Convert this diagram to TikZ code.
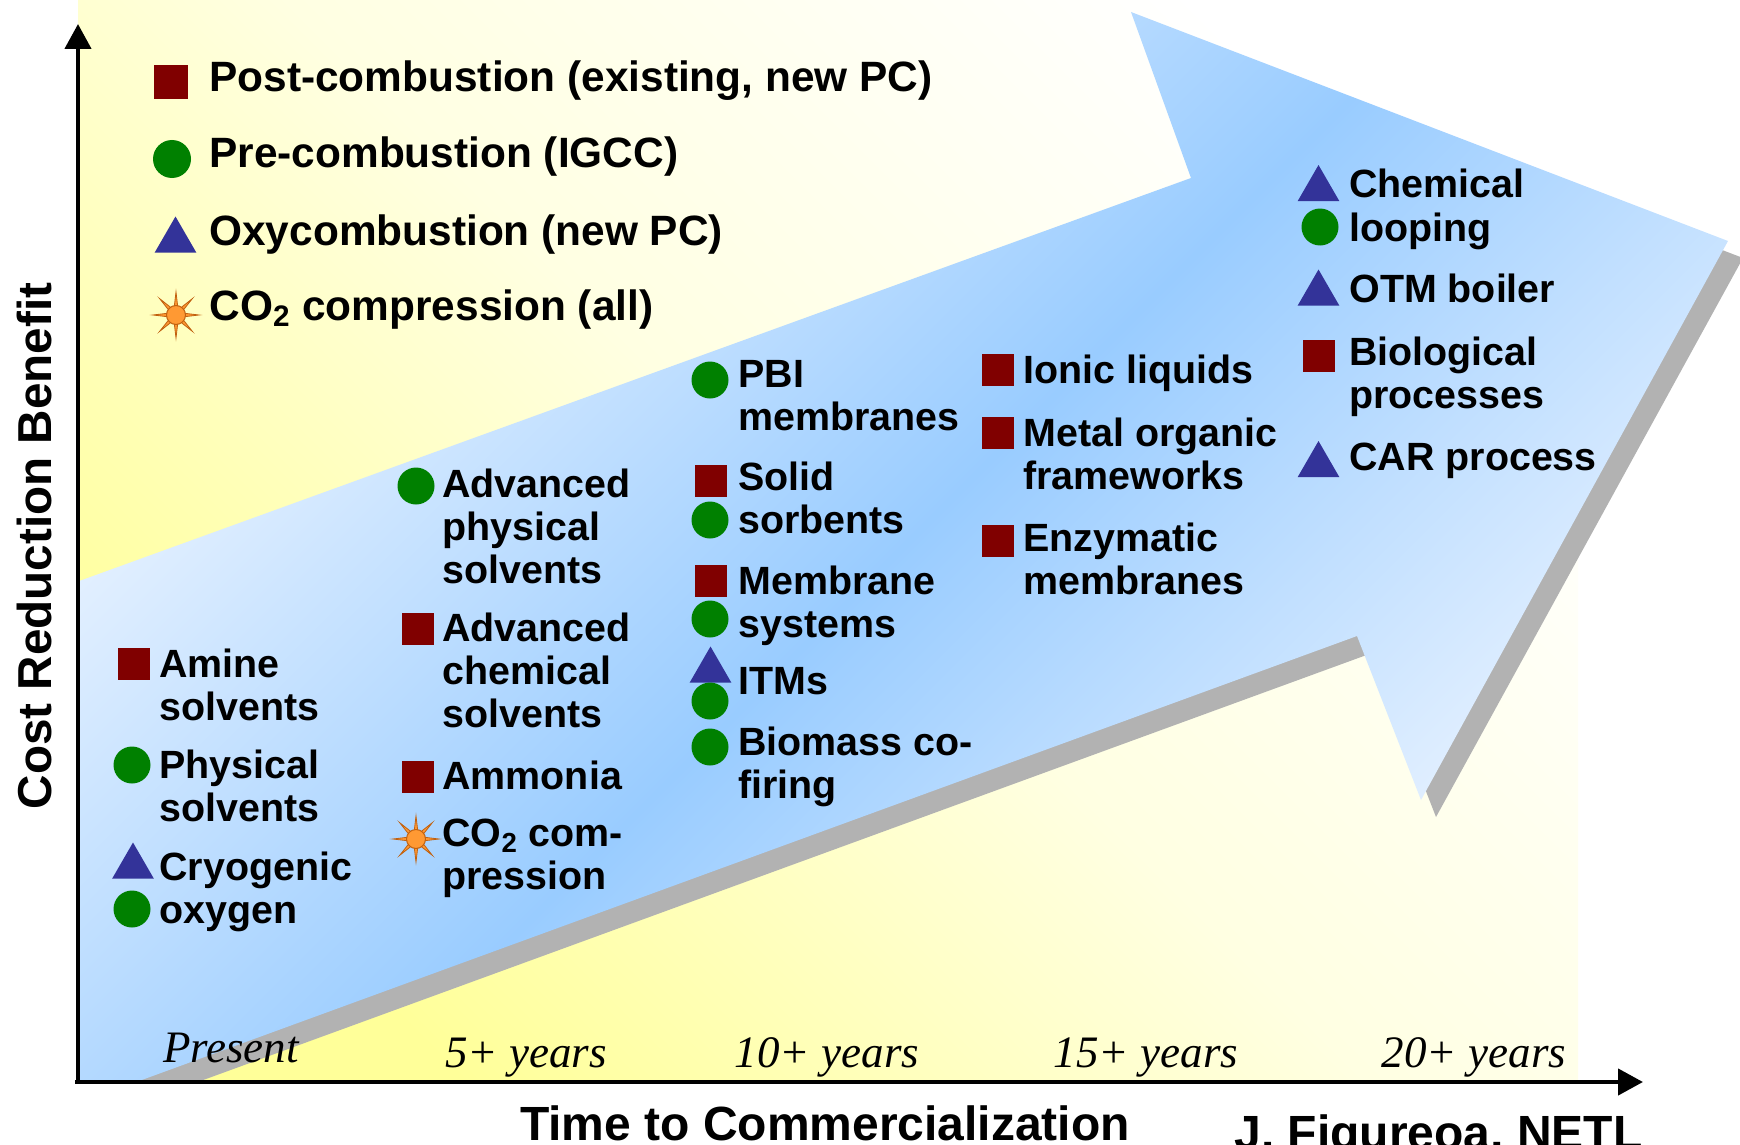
\documentclass[tikz,border=0pt]{standalone}
\usepackage{fontspec}
\setmainfont{Liberation Sans}
\newfontfamily\timesfont{Liberation Serif}
\usetikzlibrary{shapes.geometric,arrows.meta}

\definecolor{postred}{HTML}{800000}
\definecolor{pregreen}{HTML}{008000}
\definecolor{oxyblue}{HTML}{333399}
\definecolor{sunfill}{HTML}{FF9933}
\definecolor{sunline}{HTML}{C0600F}
\definecolor{bgyellow}{HTML}{FFFF99}
\definecolor{bgcream}{HTML}{FFFFE2}
\definecolor{arrowblue}{HTML}{99CCFF}
\definecolor{arrowpale}{HTML}{F2F7FF}
\definecolor{shadowgray}{HTML}{B2B2B2}

\newcommand{\legfont}{\fontsize{21.2}{24}\selectfont\bfseries}
\newcommand{\techfont}{\fontsize{19.7}{21.5}\selectfont\bfseries}
\newcommand{\yearfont}{\timesfont\fontsize{22.5}{26}\selectfont\itshape}
\newcommand{\axisfont}{\fontsize{24}{28}\selectfont\bfseries}

\tikzset{
  sunmark/.pic={
    \foreach \a in {0,45,...,315}
      \filldraw[fill=sunfill,draw=sunline,line width=.4pt] (\a-13:8) -- (\a:23) -- (\a+13:8) -- cycle;
    \filldraw[fill=sunfill,draw=sunline,line width=.5pt] (0,0) circle (9.5);
  }
}

\begin{document}
\begin{tikzpicture}[x=.5pt,y=-.5pt,
    postsq/.style={fill=postred,inner sep=0pt,minimum size=16pt},
    precirc/.style={circle,fill=pregreen,inner sep=0pt,minimum size=18.5pt},
    oxytri/.style={regular polygon,regular polygon sides=3,fill=oxyblue,inner sep=0pt,minimum size=24pt},
    legtext/.style={anchor=base west,inner sep=0pt,font=\legfont},
    techtext/.style={anchor=base west,inner sep=0pt,font=\techfont},
    yeartext/.style={anchor=base,inner sep=0pt,font=\yearfont},
    axisline/.style={line width=2.2pt,-{Triangle[length=12.5pt,width=13pt]}}
  ]
  \useasboundingbox (0,0) rectangle (1740,1145);
  \clip (0,0) rectangle (1740,1145);

  % background
  \shade[bottom color=bgyellow,top color=white,middle color=bgcream,shading angle=-45] (78,0) rectangle (1578,1080);

  % big arrow and its shadow
  \begin{scope}
    \clip (79,0) rectangle (1740,1080);
    \begin{scope}[xshift=7.5pt,yshift=-8.5pt]
      \fill[shadowgray] (60,588) -- (1191,178) -- (1131,12) -- (1728,241) -- (1421,800) -- (1357,636) -- (87,1100) -- (60,1100) -- cycle;
    \end{scope}
    \shade[top color=arrowpale,bottom color=arrowpale,middle color=arrowblue,shading angle=45]
      (60,588) -- (1191,178) -- (1131,12) -- (1728,241) -- (1421,800) -- (1357,636) -- (87,1100) -- (60,1100) -- cycle;
  \end{scope}

  % axes
  \draw[axisline] (78,1082) -- (78,24);
  \draw[axisline] (75,1082) -- (1643,1082);

  \node[rotate=90,anchor=base,inner sep=0pt,font=\fontsize{23.8}{28}\selectfont\bfseries] (ylabel) at (51,546) {Cost Reduction Benefit};
  \node[anchor=base,inner sep=0pt,font=\axisfont] (xlabel) at (825,1140) {Time to Commercialization};
  \node[anchor=base west,inner sep=0pt,font=\axisfont] (credit) at (1234,1149) {J. Figureoa, NETL};

  % legend
  \node[postsq,minimum size=17pt] (legpost) at (171,82) {};
  \node[legtext] (legposttxt) at (209,92) {Post-combustion (existing, new PC)};
  \node[precirc,minimum size=19pt] (legpre) at (172,159) {};
  \node[legtext] (legpretxt) at (209,168) {Pre-combustion (IGCC)};
  \node[oxytri] (legoxy) at (175.5,240.5) {};
  \node[legtext] (legoxytxt) at (209,245) {Oxycombustion (new PC)};
  \pic (legsun) at (176,315) {sunmark};
  \node[legtext] (legsuntxt) at (209,320) {CO\textsubscript{2} compression (all)};

  % present
  \node[postsq] (amine) at (133.5,664) {};
  \node[techtext] (aminetxt) at (159,677) {\begin{tabular}[t]{@{}l@{}}Amine\\solvents\end{tabular}};
  \node[precirc] (physical) at (132,765) {};
  \node[techtext] (physicaltxt) at (159,778) {\begin{tabular}[t]{@{}l@{}}Physical\\solvents\end{tabular}};
  \node[oxytri] (cryo) at (133,866.5) {};
  \node[precirc] (oxygen) at (132,909) {};
  \node[techtext] (cryotxt) at (159,880) {\begin{tabular}[t]{@{}l@{}}Cryogenic\\oxygen\end{tabular}};

  % 5+ years
  \node[precirc] (advphys) at (416,486) {};
  \node[techtext] (advphystxt) at (442,497) {\begin{tabular}[t]{@{}l@{}}Advanced\\physical\\solvents\end{tabular}};
  \node[postsq] (advchem) at (417.5,629) {};
  \node[techtext] (advchemtxt) at (442,641) {\begin{tabular}[t]{@{}l@{}}Advanced\\chemical\\solvents\end{tabular}};
  \node[postsq] (ammonia) at (417.5,777) {};
  \node[techtext] (ammoniatxt) at (442,789) {Ammonia};
  \pic (compsun) at (416,839) {sunmark};
  \node[techtext] (comptxt) at (442,846) {\begin{tabular}[t]{@{}l@{}}CO\textsubscript{2} com-\\pression\end{tabular}};

  % 10+ years
  \node[precirc] (pbi) at (710,380) {};
  \node[techtext] (pbitxt) at (738,387) {\begin{tabular}[t]{@{}l@{}}PBI\\membranes\end{tabular}};
  \node[postsq] (solid) at (711,480.5) {};
  \node[precirc] (sorbents) at (710,520) {};
  \node[techtext] (solidtxt) at (738,490) {\begin{tabular}[t]{@{}l@{}}Solid\\sorbents\end{tabular}};
  \node[postsq] (membrane) at (711,581) {};
  \node[precirc] (systems) at (710,619) {};
  \node[techtext] (membranetxt) at (738,594) {\begin{tabular}[t]{@{}l@{}}Membrane\\systems\end{tabular}};
  \node[oxytri] (itm) at (710.5,670.5) {};
  \node[precirc] (itmpre) at (710,701) {};
  \node[techtext] (itmtxt) at (738,694) {ITMs};
  \node[precirc] (biomass) at (710,747) {};
  \node[techtext] (biomasstxt) at (738,755) {\begin{tabular}[t]{@{}l@{}}Biomass co-\\firing\end{tabular}};

  % 15+ years
  \node[postsq] (ionic) at (997.5,370) {};
  \node[techtext] (ionictxt) at (1023,383) {Ionic liquids};
  \node[postsq] (metal) at (997.5,432.5) {};
  \node[techtext] (metaltxt) at (1023,446) {\begin{tabular}[t]{@{}l@{}}Metal organic\\frameworks\end{tabular}};
  \node[postsq] (enzyme) at (997.5,540.5) {};
  \node[techtext] (enzymetxt) at (1023,551) {\begin{tabular}[t]{@{}l@{}}Enzymatic\\membranes\end{tabular}};

  % 20+ years
  \node[oxytri] (chemloop) at (1318.5,189) {};
  \node[precirc] (looping) at (1320,227) {};
  \node[techtext] (chemlooptxt) at (1349,198) {\begin{tabular}[t]{@{}l@{}}Chemical\\looping\end{tabular}};
  \node[oxytri] (otm) at (1318.5,293.5) {};
  \node[techtext] (otmtxt) at (1349,302) {OTM boiler};
  \node[postsq] (bio) at (1318.5,355.5) {};
  \node[techtext] (biotxt) at (1349,365) {\begin{tabular}[t]{@{}l@{}}Biological\\processes\end{tabular}};
  \node[oxytri] (car) at (1318.5,465) {};
  \node[techtext] (cartxt) at (1349,470) {CAR process};

  % time labels
  \node[yeartext] (present) at (231,1062) {Present};
  \node[yeartext] (five) at (526,1067) {5+ years};
  \node[yeartext] (ten) at (827,1067) {10+ years};
  \node[yeartext] (fifteen) at (1146,1067) {15+ years};
  \node[yeartext] (twenty) at (1474,1067) {20+ years};
\end{tikzpicture}
\end{document}
